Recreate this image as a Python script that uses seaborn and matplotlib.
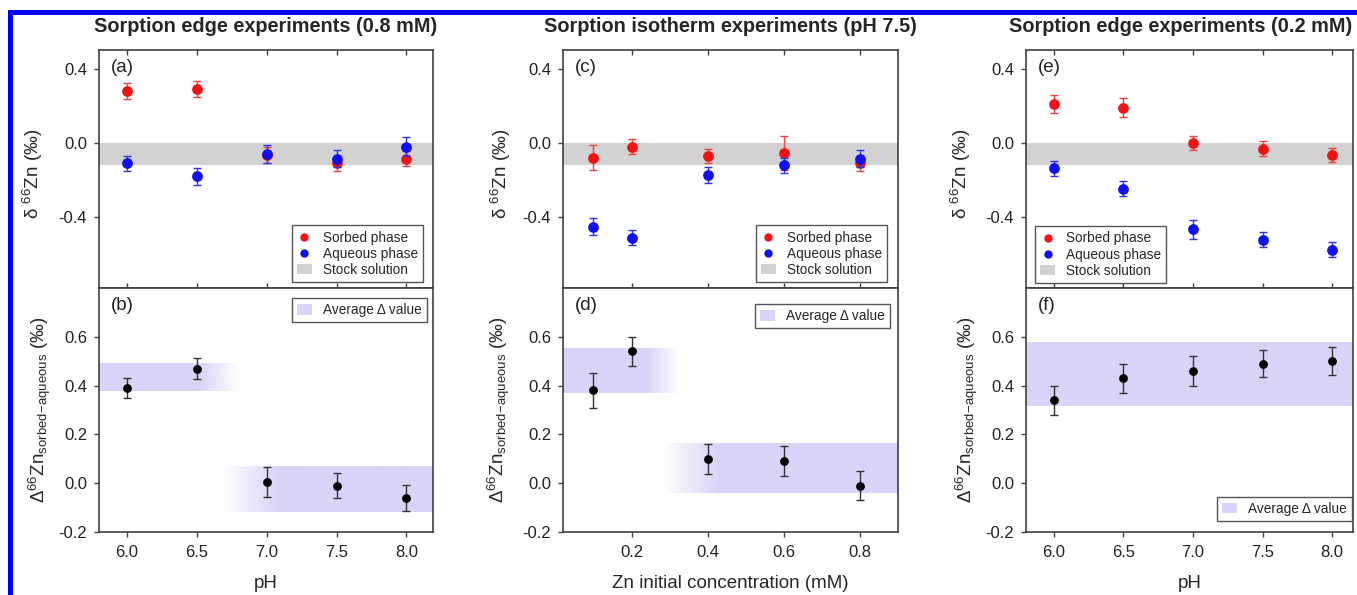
import numpy as np
import matplotlib
matplotlib.use("Agg")
import matplotlib.pyplot as plt
import seaborn as sns
from matplotlib.lines import Line2D
from matplotlib.patches import Patch, Rectangle
from matplotlib.colors import to_rgb

# ------------------------------------------------------------------ data
ph = [6.0, 6.5, 7.0, 7.5, 8.0]
conc = [0.1, 0.2, 0.4, 0.6, 0.8]

a_sorbed = [0.28, 0.29, -0.065, -0.11, -0.085]
a_sorbed_err = [0.045, 0.045, 0.045, 0.04, 0.04]
a_aqueous = [-0.11, -0.18, -0.06, -0.085, -0.02]
a_aqueous_err = [0.04, 0.045, 0.05, 0.045, 0.05]
b_delta = [0.39, 0.47, 0.005, -0.01, -0.06]
b_delta_err = [0.042, 0.042, 0.062, 0.05, 0.053]

c_sorbed = [-0.08, -0.02, -0.07, -0.055, -0.11]
c_sorbed_err = [0.067, 0.04, 0.04, 0.09, 0.04]
c_aqueous = [-0.45, -0.51, -0.17, -0.12, -0.085]
c_aqueous_err = [0.045, 0.04, 0.043, 0.04, 0.045]
d_delta = [0.38, 0.54, 0.10, 0.09, -0.01]
d_delta_err = [0.07, 0.06, 0.062, 0.062, 0.06]

e_sorbed = [0.21, 0.19, 0.0, -0.03, -0.065]
e_sorbed_err = [0.05, 0.05, 0.04, 0.04, 0.04]
e_aqueous = [-0.135, -0.245, -0.465, -0.52, -0.573]
e_aqueous_err = [0.04, 0.04, 0.05, 0.04, 0.04]
f_delta = [0.34, 0.43, 0.46, 0.49, 0.50]
f_delta_err = [0.06, 0.06, 0.06, 0.055, 0.058]

stock_band = [-0.12, 0.0]

# average-delta bands: y range, x break points and opacity at those points
b_bands = [
    dict(y=[0.376, 0.487], x=[5.8, 6.52, 6.8], a=[1, 1, 0]),
    dict(y=[-0.116, 0.07], x=[6.69, 7.08, 8.2], a=[0, 1, 1]),
]
d_bands = [
    dict(y=[0.369, 0.552], x=[0.0, 0.238, 0.325], a=[1, 1, 0]),
    dict(y=[-0.04, 0.164], x=[0.281, 0.43, 0.9], a=[0, 1, 1]),
]
f_bands = [
    dict(y=[0.315, 0.575], x=[5.8, 8.2], a=[1, 1]),
]

titles = ["Sorption edge experiments (0.8 mM)",
          "Sorption isotherm experiments (pH 7.5)",
          "Sorption edge experiments (0.2 mM)"]
xlabels = ["pH", "Zn initial concentration (mM)", "pH"]
top_yticks = [-0.4, 0.0, 0.4]
bot_yticks = [-0.2, 0.0, 0.2, 0.4, 0.6]
ph_ticks = [6.0, 6.5, 7.0, 7.5, 8.0]
conc_ticks = [0.2, 0.4, 0.6, 0.8]

# ------------------------------------------------------------------ style
sns.set_theme(style="ticks")
plt.rcParams["font.family"] = ["Liberation Sans", "DejaVu Sans"]
plt.rcParams["mathtext.fontset"] = "custom"
plt.rcParams["mathtext.rm"] = "Liberation Sans"
plt.rcParams["mathtext.it"] = "Liberation Sans:italic"
plt.rcParams["mathtext.bf"] = "Liberation Sans:bold"
plt.rcParams["axes.unicode_minus"] = False

RED = "#f01414"
BLUE = "#1010f0"
BLACK = "#000000"
GRAY_BAND = "#d2d2d2"
LAV = "#d9d4f8"
SPINE = "#404040"

W, H = 1357, 595
fig = plt.figure(figsize=(W / 100, H / 100), dpi=100)


def rect(l, t, r, b):
    return [l / W, 1 - b / H, (r - l) / W, (b - t) / H]


cols = [(99, 433), (563, 898), (1026, 1353)]
xlims = [(5.8, 8.19), (0.02, 0.9), (5.8, 8.15)]
top_lims = (-0.78, 0.5)
bot_lims = (-0.2, 0.8)
title_x = [0.5, 0.5, 0.474]


def style_axis(ax):
    for s in ax.spines.values():
        s.set_color(SPINE)
        s.set_linewidth(1.2)
        s.set_visible(True)
    ax.tick_params(axis="both", colors=SPINE, labelcolor="#222222",
                   labelsize=12, length=3.5, width=1)
    ax.tick_params(axis="y", direction="out", pad=5, right=False)
    ax.grid(False)


def gradient_band(ax, band):
    xs = np.linspace(band["x"][0], band["x"][-1], 300)
    alpha = np.interp(xs, band["x"], band["a"])
    img = np.zeros((1, len(xs), 4))
    img[..., :3] = to_rgb(LAV)
    img[0, :, 3] = alpha
    ax.imshow(img, extent=[xs[0], xs[-1], band["y"][0], band["y"][1]],
              aspect="auto", interpolation="bilinear", zorder=0.5)


def points(ax, x, y, err, color, size, ecolor, z):
    ax.errorbar(x, y, yerr=err, fmt="none", ecolor=ecolor, elinewidth=1,
                capsize=3, capthick=1, zorder=z)
    sns.scatterplot(x=x, y=y, color=color, s=size, linewidth=0, ax=ax,
                    zorder=z + 0.5, legend=False)


top_data = [(ph, a_sorbed, a_sorbed_err, a_aqueous, a_aqueous_err),
            (conc, c_sorbed, c_sorbed_err, c_aqueous, c_aqueous_err),
            (ph, e_sorbed, e_sorbed_err, e_aqueous, e_aqueous_err)]
bot_data = [(ph, b_delta, b_delta_err, b_bands),
            (conc, d_delta, d_delta_err, d_bands),
            (ph, f_delta, f_delta_err, f_bands)]
xticks = [ph_ticks, conc_ticks, ph_ticks]
top_letters = ["(a)", "(c)", "(e)"]
bot_letters = ["(b)", "(d)", "(f)"]
top_leg = [("lower right", (0.97, 0.025)), ("lower right", (0.967, 0.025)),
           ("lower left", (0.028, 0.021))]
bot_leg = [("upper right", (0.982, 0.959)), ("upper right", (0.976, 0.934)),
           ("lower right", (0.997, 0.045))]
top_ylab_x = [-0.162, -0.149, -0.162]
bot_ylab_x = [-0.138, -0.152, -0.141]

for i in range(3):
    l, r = cols[i]
    axt = fig.add_axes(rect(l, 50, r, 288))
    axb = fig.add_axes(rect(l, 288, r, 532))

    # ---------------- upper panel
    x, ys, yse, ya, yae = top_data[i]
    axt.axhspan(stock_band[0], stock_band[1], color=GRAY_BAND, lw=0, zorder=0.5)
    points(axt, x, ys, yse, RED, 60, "#f04040", 2)
    points(axt, x, ya, yae, BLUE, 60, "#3030f0", 3)
    axt.set_xlim(*xlims[i])
    axt.set_ylim(*top_lims)
    axt.set_xticks(xticks[i])
    axt.set_yticks(top_yticks)
    axt.set_yticklabels([f"{v:.1f}" for v in top_yticks])
    style_axis(axt)
    axt.tick_params(axis="x", direction="in", top=True, bottom=True,
                    labelbottom=False)
    axt.set_ylabel("δ $^{66}$Zn (‰)", fontsize=13.5)
    axt.yaxis.set_label_coords(top_ylab_x[i], 0.48)
    axt.set_xlabel("")
    axt.set_title(titles[i], fontsize=14.3, fontweight="bold", pad=13,
                  x=title_x[i])
    axt.text(0.035, 0.925, top_letters[i], transform=axt.transAxes,
             fontsize=13.5, va="center", ha="left", color="#222222")
    handles = [
        Line2D([], [], marker="o", color=RED, ls="none", markersize=5),
        Line2D([], [], marker="o", color=BLUE, ls="none", markersize=5),
        Patch(facecolor=GRAY_BAND, edgecolor="none"),
    ]
    leg = axt.legend(handles, ["Sorbed phase", "Aqueous phase", "Stock solution"],
                     loc=top_leg[i][0], bbox_to_anchor=top_leg[i][1],
                     fontsize=9.8, frameon=True, fancybox=False,
                     edgecolor="#555555", framealpha=1, borderpad=0.38,
                     labelspacing=0.16, handlelength=1.1, handleheight=0.8,
                     handletextpad=0.8, borderaxespad=0)
    leg.get_frame().set_linewidth(1)

    # ---------------- lower panel
    x, yd, yde, bands = bot_data[i]
    for band in bands:
        gradient_band(axb, band)
    points(axb, x, yd, yde, BLACK, 40, "#333333", 3)
    axb.set_xlim(*xlims[i])
    axb.set_ylim(*bot_lims)
    axb.set_xticks(xticks[i])
    axb.set_xticklabels([f"{v:.1f}" for v in xticks[i]])
    axb.set_yticks(bot_yticks)
    axb.set_yticklabels([f"{v:.1f}" for v in bot_yticks])
    style_axis(axb)
    axb.tick_params(axis="x", direction="out", top=False, bottom=True, pad=6)
    axb.set_ylabel(r"$\Delta^{66}$Zn$_{\mathregular{sorbed\!-\!aqueous}}$ (‰)",
                   fontsize=13.5)
    axb.yaxis.set_label_coords(bot_ylab_x[i], 0.5)
    axb.set_xlabel(xlabels[i], fontsize=13.5)
    axb.xaxis.set_label_coords(0.5, -0.176)
    axb.text(0.035, 0.927, bot_letters[i], transform=axb.transAxes,
             fontsize=13.5, va="center", ha="left", color="#222222")
    leg = axb.legend([Patch(facecolor=LAV, edgecolor="none")],
                     ["Average Δ value"],
                     loc=bot_leg[i][0], bbox_to_anchor=bot_leg[i][1],
                     fontsize=9.8, frameon=True, fancybox=False,
                     edgecolor="#555555", framealpha=1, borderpad=0.38,
                     handlelength=1.1, handleheight=0.8, handletextpad=0.8,
                     borderaxespad=0)
    leg.get_frame().set_linewidth(1)

# blue frame (top and left edges)
fig.add_artist(Rectangle((8 / W, 0), 5 / W, (H - 10) / H,
                         transform=fig.transFigure, color="#0000ff", lw=0))
fig.add_artist(Rectangle((8 / W, 1 - 15 / H), 1 - 8 / W, 5 / H,
                         transform=fig.transFigure, color="#0000ff", lw=0))

fig.savefig("out.png", dpi=100)
